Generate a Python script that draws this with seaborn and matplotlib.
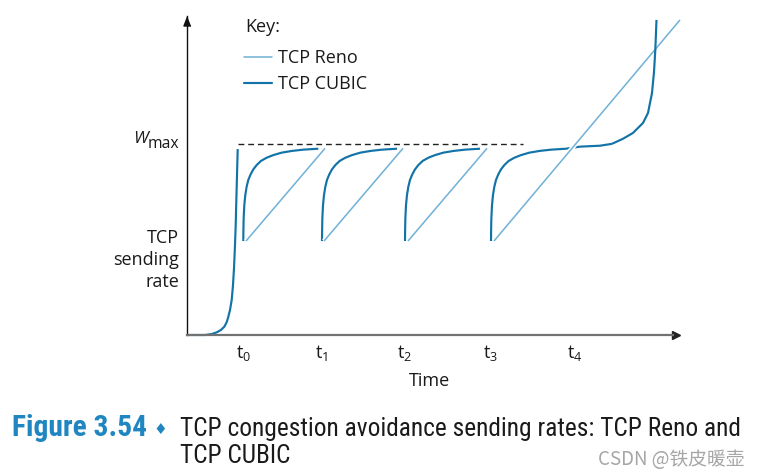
import matplotlib
matplotlib.use("Agg")
import matplotlib.pyplot as plt
import matplotlib.patheffects as pe
import matplotlib.transforms as mtrans
from matplotlib import font_manager
from matplotlib.lines import Line2D
import pandas as pd
import seaborn as sns

# ---------------- data ----------------
protocols = ["TCP Reno", "TCP CUBIC"]
protocol_colors = ["#74b3d9", "#1273a8"]

tick_times = [5.63, 13.5, 21.8, 30.4, 38.8]
tick_labels = [r"t$_\mathregular{0}$", r"t$_\mathregular{1}$", r"t$_\mathregular{2}$",
               r"t$_\mathregular{3}$", r"t$_\mathregular{4}$"]
x_label = "Time"
y_label = "TCP\nsending\nrate"
key_title = "Key:"

w_max_rate = 1.014
w_max_span = [5.07, 33.6]

slow_start_time = [0.1, 0.47, 1.8, 2.47, 2.97, 3.4, 3.73, 3.97, 4.13, 4.3, 4.47,
                   4.6, 4.7, 4.8, 4.87, 4.93, 5.0, 5.07]
slow_start_rate = [0.0, 0.0, 0.0, 0.005, 0.014, 0.027, 0.044, 0.068, 0.097, 0.133,
                   0.186, 0.266, 0.355, 0.479, 0.585, 0.709, 0.851, 0.989]

cubic_epoch_starts = [5.63, 13.5, 21.8, 30.4]
cubic_epoch_dt = [0.0, 0.01, 0.034, 0.1, 0.2, 0.334, 0.5, 0.734, 1.0, 1.334, 1.767,
                  2.334, 3.0, 3.834, 4.834, 6.0, 7.5]
cubic_epoch_rate = [0.5, 0.55, 0.62, 0.69, 0.745, 0.789, 0.825, 0.855, 0.881, 0.904,
                    0.926, 0.943, 0.957, 0.970, 0.979, 0.986, 0.991]
cubic_probe_dt = [8.9, 10.9, 12.1, 13.2, 14.2, 15.2, 15.7, 16.1, 16.3, 16.43, 16.55]
cubic_probe_rate = [1.002, 1.007, 1.017, 1.044, 1.075, 1.128, 1.181, 1.287, 1.399,
                    1.516, 1.676]

reno_start_time = [5.9, 13.7, 22.1, 30.7]
reno_start_rate = [0.5, 0.5, 0.5, 0.5]
reno_end_time = [13.8, 21.6, 30.0, 49.3]
reno_end_rate = [0.993, 0.993, 0.993, 1.676]

caption_number = "Figure 3.54"
caption_mark = "\u2666"
caption_line1 = "TCP congestion avoidance sending rates: TCP Reno and"
caption_line2 = "TCP CUBIC"
watermark = "CSDN @铁皮暖壶"

# ---------------- tables ----------------
cubic_rows, tail_rows, reno_rows = [], [], []
for t, r in zip(slow_start_time, slow_start_rate):
    cubic_rows.append(("ss", t, r))
for i, t0 in enumerate(cubic_epoch_starts):
    for dt, r in zip(cubic_epoch_dt, cubic_epoch_rate):
        cubic_rows.append((f"c{i}", t0 + dt, r))
last_start = cubic_epoch_starts[-1]
for dt, r in zip(cubic_probe_dt, cubic_probe_rate):
    if dt <= 12.1:
        cubic_rows.append((f"c{len(cubic_epoch_starts) - 1}", last_start + dt, r))
    if dt >= 12.1:
        tail_rows.append(("tail", last_start + dt, r))
for i, (ta, ra, tb, rb) in enumerate(zip(reno_start_time, reno_start_rate,
                                         reno_end_time, reno_end_rate)):
    reno_rows += [(f"r{i}", ta, ra), (f"r{i}", tb, rb)]

cols = ["unit", "time", "rate"]
cubic_df = pd.DataFrame(cubic_rows, columns=cols)
tail_df = pd.DataFrame(tail_rows, columns=cols)
reno_df = pd.DataFrame(reno_rows, columns=cols)

# ---------------- style ----------------
sns.set_style("white")
plt.rcParams["font.family"] = ["Open Sans", "DejaVu Sans"]
plt.rcParams["mathtext.default"] = "regular"
TXT = "#1a1a1a"


def italic_family(cands):
    for fam in cands:
        for f in font_manager.fontManager.ttflist:
            if f.name == fam and f.style == "italic":
                return fam
    return "DejaVu Sans"


def first_family(cands):
    names = {f.name for f in font_manager.fontManager.ttflist}
    for fam in cands:
        if fam in names:
            return fam
    return "DejaVu Sans"


W, H = 760, 475
fig = plt.figure(figsize=(W / 100, H / 100), dpi=100)
ax = fig.add_axes([187 / W, 140 / H, 493 / W, 319 / H])

lw_cubic, lw_reno = 1.55, 1.15
sns.lineplot(data=cubic_df, x="time", y="rate", units="unit", estimator=None,
             sort=False, color=protocol_colors[1], lw=lw_cubic, ax=ax)
n0 = len(ax.lines)
sns.lineplot(data=reno_df, x="time", y="rate", units="unit", estimator=None,
             sort=False, color=protocol_colors[0], lw=lw_reno, ax=ax)
for ln in ax.lines[n0:]:
    ln.set_path_effects([pe.Stroke(linewidth=3.4, foreground="white"), pe.Normal()])
sns.lineplot(data=tail_df, x="time", y="rate", units="unit", estimator=None,
             sort=False, color=protocol_colors[1], lw=lw_cubic, ax=ax)
for ln in ax.lines:
    ln.set_clip_on(False)
    ln.set_solid_capstyle("butt")

ax.hlines(w_max_rate, w_max_span[0], w_max_span[1], colors="#222222",
          linestyles=(0, (4.2, 2.8)), lw=1.0)

ax.set_xlim(0, 49.3)
ax.set_ylim(0, 1.697)
for s in ("top", "right"):
    ax.spines[s].set_visible(False)
ax.spines["left"].set_color("#111111")
ax.spines["left"].set_linewidth(1.0)
ax.spines["bottom"].set_color("#727272")
ax.spines["bottom"].set_linewidth(1.6)
ax.spines["bottom"].set_bounds(0, 48.6)

# arrow heads
ymark = [(0, 0.5), (-0.39, -0.5), (0.39, -0.5)]
ax.plot([0], [1], marker=ymark, ms=6.5, color="#111111", clip_on=False,
        transform=ax.transAxes + mtrans.ScaledTranslation(0, -3.25 / 72, fig.dpi_scale_trans))
ax.plot([1], [0], marker=">", ms=5.8, color="#222222", clip_on=False,
        transform=ax.transAxes + mtrans.ScaledTranslation(-2.9 / 72, 0, fig.dpi_scale_trans))

ax.set_xticks(tick_times, tick_labels)
ax.tick_params(axis="x", length=0, pad=6, labelsize=13, labelcolor=TXT)
ax.set_yticks([])
ax.set_xlabel(x_label, fontsize=13, color=TXT)
ax.xaxis.set_label_coords((430 - 187) / 493, -37 / 319)
ax.set_ylabel(y_label, fontsize=13, color=TXT, rotation=0, ha="right", va="center",
              linespacing=1.3)
ax.yaxis.set_label_coords(-8 / 493, (335 - 260) / 319)


def fpx(x, y):
    return x / W, 1 - y / H


# key
fig.text(*fpx(245, 32), key_title, ha="left", va="baseline", fontsize=13, color=TXT)
handles = [Line2D([], [], color=protocol_colors[0], lw=lw_reno),
           Line2D([], [], color=protocol_colors[1], lw=lw_cubic)]
leg = ax.legend(handles, protocols, frameon=False,
                loc="upper left", bbox_to_anchor=fpx(244, 49), bbox_transform=fig.transFigure,
                borderpad=0, borderaxespad=0, handlelength=1.55, handletextpad=0.35,
                labelspacing=0.45, fontsize=13)
for t in leg.get_texts():
    t.set_color(TXT)

# W_max label
t_max = fig.text(*fpx(179.5, 147.5), "max", ha="right", va="baseline", fontsize=11.3,
                 color=TXT)
t_w = fig.text(*fpx(150, 143.5), "W", ha="right", va="baseline", fontsize=12.5,
               style="italic", family=italic_family(["Open Sans", "Noto Sans", "Lato"]),
               color=TXT)

# caption
cap_fam = [first_family(["Liberation Sans Narrow", "Roboto Condensed", "Roboto"]),
           "DejaVu Sans"]
blue = "#1f86c1"
t_num = fig.text(*fpx(12, 436), caption_number, ha="left", va="baseline", fontsize=17,
                 weight="bold", family=cap_fam, color=blue)
t_mark = fig.text(*fpx(160, 434), caption_mark, ha="center", va="baseline", fontsize=11,
                  family=["DejaVu Sans"], color=blue)
t_l1 = fig.text(*fpx(180, 436), caption_line1, ha="left", va="baseline", fontsize=17,
                family=cap_fam, color=TXT)
t_l2 = fig.text(*fpx(180, 463), caption_line2, ha="left", va="baseline", fontsize=17,
                family=cap_fam, color=TXT)
fig.canvas.draw()
rend = fig.canvas.get_renderer()
scale = 560 / t_l1.get_window_extent(rend).width
for t in (t_l1, t_l2):
    t.set_fontsize(17 * scale)
t_num.set_fontsize(17 * 135 / t_num.get_window_extent(rend).width)
# W sits right before the subscript
x_left = t_max.get_window_extent(rend).x0
t_w.set_position((x_left / W, t_w.get_position()[1]))

fig.text(*fpx(745, 465), watermark, ha="right", va="baseline", fontsize=13.5,
         family=["Noto Sans CJK SC", "DejaVu Sans"], color="#a6a6a6")

fig.savefig("out.png", dpi=100)
